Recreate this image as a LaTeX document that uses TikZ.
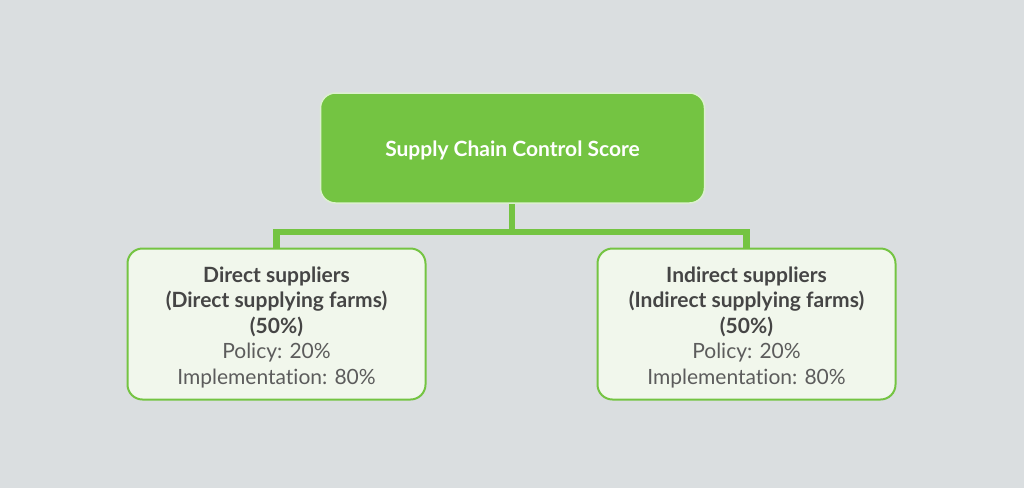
\documentclass[tikz,border=0pt]{standalone}
\usepackage{fontspec}
\setmainfont[Ligatures={NoCommon,NoRare}]{Lato}
\definecolor{bg}{HTML}{DADEE0}
\definecolor{leaf}{HTML}{74C442}
\definecolor{pale}{HTML}{F1F7EC}
\definecolor{ink}{HTML}{454545}
\definecolor{inklight}{HTML}{5C5C5C}
\tikzset{
  topbox/.style={draw=white!75!leaf, line width=1.5pt, fill=leaf, rounded corners=15pt,
    minimum width=384pt, minimum height=110pt, inner sep=0pt, text=white,
    font=\fontsize{21}{25}\selectfont},
  subbox/.style={draw=leaf, line width=2pt, fill=pale, rounded corners=15pt,
    minimum width=298pt, minimum height=151pt, inner sep=0pt, text=ink, align=center,
    font=\fontsize{21}{25.5}\selectfont},
  conn/.style={draw=leaf, line width=6.5pt},
}
\begin{document}
\begin{tikzpicture}[x=1pt,y=-1pt]
\fill[bg] (0,0) rectangle (1024,488);
\useasboundingbox (0,0) rectangle (1024,488);
\coordinate (j) at (512,232);
\node[subbox] (left) at (276.5,324) {};
\node[subbox] (right) at (746.5,324) {};
\draw[conn] (512,203) -- (j);
\draw[conn] (j) -| (left.north);
\draw[conn] (j) -| (right.north);
\node[topbox] (top) at (512.5,148) {};
\node[text=white, font=\fontsize{21}{25}\selectfont\bfseries] (toptext) at (512.5,150) {Supply Chain Control Score};
\node[subbox, draw=none, fill=none] (lt) at (276.5,327) {\textbf{Direct suppliers}\\\textbf{(Direct supplying farms)}\\\textbf{(50\%)}\\{\color{inklight}Policy: 20\%}\\{\color{inklight}Implementation: 80\%}};
\node[subbox, draw=none, fill=none] (rt) at (746.5,327) {\textbf{Indirect suppliers}\\\textbf{(Indirect supplying farms)}\\\textbf{(50\%)}\\{\color{inklight}Policy: 20\%}\\{\color{inklight}Implementation: 80\%}};
\end{tikzpicture}
\end{document}
